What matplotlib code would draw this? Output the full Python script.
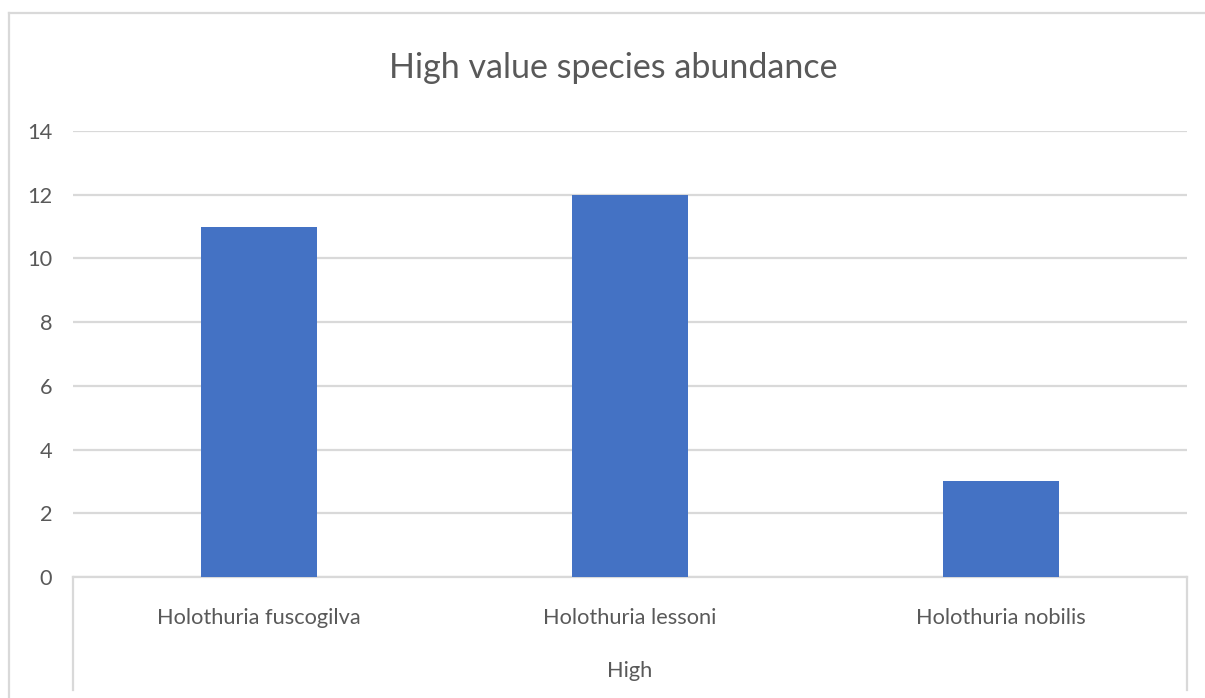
#!/usr/bin/env python3

import matplotlib
matplotlib.use("Agg")
import matplotlib.pyplot as plt
from matplotlib.lines import Line2D

#-------------------------------------------------------------
# data
species = ["Holothuria fuscogilva", "Holothuria lessoni", "Holothuria nobilis"]
abundance = [11, 12, 3]
group_label = "High"
title = "High value species abundance"
yticks = [0, 2, 4, 6, 8, 10, 12, 14]

#-------------------------------------------------------------
def main():
    plt.rcParams['font.family'] = ['Lato', 'DejaVu Sans']
    grid = "#d9d9d9"
    txt = "#595959"

    fig = plt.figure(figsize=(12.05, 6.98), dpi=100)
    ax = fig.add_axes([73/1205, 1 - 577/698, (1187 - 73)/1205, (577 - 131)/698])

    x = list(range(len(species)))
    ax.bar(x, abundance, width=0.313, color="#4472c4", zorder=3)
    ax.set_xlim(-0.5, len(species) - 0.5)
    ax.set_ylim(0, 14)
    ax.set_yticks(yticks)
    ax.set_yticklabels([str(t) for t in yticks])
    ax.yaxis.grid(True, color=grid, linewidth=1.6, zorder=0)
    ax.set_xticks(x)
    ax.set_xticklabels(species)
    ax.tick_params(axis="both", length=0, labelsize=15.7, colors=txt)
    ax.tick_params(axis="y", pad=15)
    ax.tick_params(axis="x", pad=22)
    for s in ["top", "right", "left"]:
        ax.spines[s].set_visible(False)
    ax.spines["bottom"].set_color(grid)
    ax.spines["bottom"].set_linewidth(1.6)

    # multi-level category axis: outer separators and group name
    for xa in (0, 1):
        ax.plot([xa, xa], [0, -0.253], transform=ax.transAxes,
                color=grid, linewidth=1.6, clip_on=False)
    ax.text(0.5, -0.21, group_label, transform=ax.transAxes,
            ha="center", va="center", fontsize=15.7, color=txt)

    # chart frame
    fig.add_artist(Line2D([9/1205, 9/1205], [0, 1 - 13/698],
                          color=grid, linewidth=1.6))
    fig.add_artist(Line2D([9/1205, 1], [1 - 13/698, 1 - 13/698],
                          color=grid, linewidth=1.6))

    fig.text(613/1205, 1 - 68/698, title, ha="center", va="center",
             fontsize=24.5, color=txt)

    fig.savefig("out.png", dpi=100)
    plt.close(fig)

#-------------------------------------------------------------
if __name__ == "__main__":
    main()
